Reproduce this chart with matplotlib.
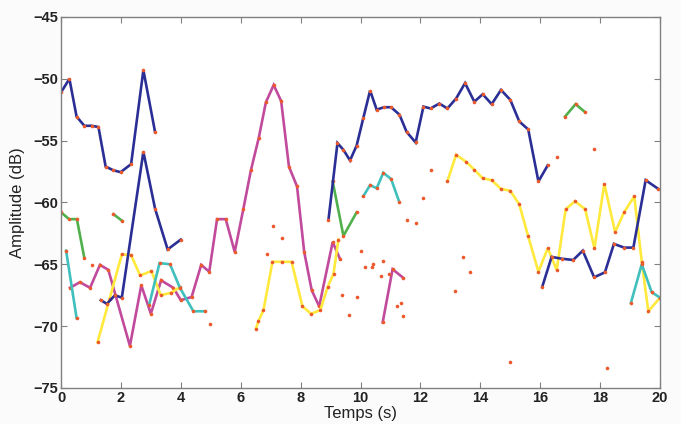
import matplotlib
matplotlib.use("Agg")
import matplotlib.pyplot as plt

# ---- data (time in s, amplitude in dB) ----
blue_a_t = [0.0, 0.28, 0.52, 0.78, 1.02, 1.25, 1.49, 1.75, 1.99, 2.34, 2.75, 3.14]
blue_a_v = [-51.1, -50.0, -53.06, -53.8, -53.8, -53.9, -57.1, -57.4, -57.55, -56.9, -49.3, -54.3]

blue_b_t = [1.33, 1.53, 1.80, 2.03, 2.75, 3.14, 3.56, 4.0]
blue_b_v = [-67.9, -68.2, -67.5, -67.7, -55.9, -60.5, -63.8, -63.0]

blue_c_t = [8.93, 9.23, 9.43, 9.65, 9.87, 10.09, 10.32, 10.54, 10.78, 11.02, 11.3, 11.54,
            11.84, 12.1, 12.34, 12.63, 12.9, 13.19, 13.49, 13.8, 14.08, 14.38, 14.69,
            15.0, 15.3, 15.6, 15.94, 16.25]
blue_c_v = [-61.4, -55.2, -55.75, -56.6, -55.4, -53.2, -50.95, -52.5, -52.3, -52.3, -52.9,
            -54.3, -55.15, -52.25, -52.4, -52.0, -52.4, -51.6, -50.35, -51.85, -51.25,
            -52.05, -50.9, -51.7, -53.45, -54.1, -58.3, -57.0]

blue_d_t = [16.07, 16.38, 16.72, 17.1, 17.42, 17.8, 18.16, 18.46, 18.8, 19.11, 19.52, 19.94]
blue_d_v = [-66.8, -64.4, -64.55, -64.65, -63.9, -66.05, -65.65, -63.35, -63.65, -63.65,
            -58.2, -58.9]

magenta_a_t = [0.3, 0.63, 0.97, 1.3, 1.58, 2.3, 2.68, 3.0, 3.34, 3.75, 4.0, 4.36, 4.68, 4.95,
               5.21, 5.5, 5.8, 6.09, 6.34, 6.6, 6.84, 7.1, 7.35, 7.61, 7.88, 8.12, 8.37,
               8.62, 9.07, 9.32]
magenta_a_v = [-66.9, -66.45, -66.9, -65.05, -65.45, -71.6, -66.7, -69.0, -66.3, -66.9,
               -67.9, -67.65, -65.05, -65.6, -61.35, -61.35, -64.0, -60.5, -57.4, -54.8,
               -51.9, -50.5, -51.8, -57.1, -58.7, -64.0, -67.1, -68.4, -63.2, -64.6]

magenta_b_t = [10.74, 11.07, 11.43]
magenta_b_v = [-69.7, -65.4, -66.1]

yellow_a_t = [1.22, 1.62, 2.03, 2.34, 2.64, 3.02, 3.33, 3.68, 3.97]
yellow_a_v = [-71.3, -67.8, -64.2, -64.25, -65.9, -65.55, -67.5, -67.3, -66.85]

yellow_b_t = [6.51, 6.59, 6.76, 7.06, 7.37, 7.7, 8.06, 8.35, 8.66, 8.9, 9.1, 9.26]
yellow_b_v = [-70.2, -69.6, -68.7, -64.8, -64.8, -64.8, -68.4, -69.0, -68.7, -66.85, -65.75,
              -63.0]

yellow_c_t = [12.9, 13.19, 13.52, 13.8, 14.08, 14.38, 14.69, 15.0, 15.3, 15.6, 15.94, 16.25,
              16.55, 16.85, 17.16, 17.5, 17.81, 18.14, 18.5, 18.8, 19.14, 19.39, 19.61, 20.0]
yellow_c_v = [-58.3, -56.15, -56.7, -57.35, -58.05, -58.2, -58.9, -59.05, -60.15, -62.75,
              -65.6, -63.7, -65.45, -60.55, -59.9, -60.55, -63.7, -58.5, -62.4, -60.8,
              -59.5, -64.8, -68.8, -67.7]

cyan_a_t = [0.17, 0.52]
cyan_a_v = [-63.9, -69.35]
cyan_b_t = [2.94, 3.29, 3.64, 3.97, 4.42, 4.81]
cyan_b_v = [-68.3, -64.9, -65.0, -66.9, -68.8, -68.8]
cyan_c_t = [10.09, 10.32, 10.54, 10.76, 11.02, 11.3]
cyan_c_v = [-59.5, -58.6, -58.85, -57.6, -58.1, -60.0]
cyan_d_t = [19.03, 19.39, 19.72, 20.0]
cyan_d_v = [-68.1, -65.0, -67.25, -67.7]

green_a_t = [0.0, 0.27, 0.53, 0.78]
green_a_v = [-60.8, -61.35, -61.35, -64.5]
green_b_t = [1.75, 2.05]
green_b_v = [-60.95, -61.5]
green_c_t = [9.07, 9.43, 9.87]
green_c_v = [-58.3, -62.7, -60.8]
green_d_t = [16.83, 17.18, 17.5]
green_d_v = [-53.05, -52.05, -52.7]

dots_t = [1.02, 4.97, 6.87, 7.09, 7.37, 9.39, 9.62, 9.88, 10.02, 10.15, 10.37, 10.41, 10.68,
          10.74, 10.96, 11.23, 11.35, 11.43, 11.54, 11.84, 12.1, 12.35, 13.16, 13.41,
          13.66, 14.98, 16.55, 17.81, 18.22]
dots_v = [-65.05, -69.85, -64.2, -61.9, -62.85, -67.5, -69.1, -67.65, -63.9, -65.25, -65.25,
          -65.0, -65.95, -64.7, -65.8, -68.4, -68.1, -69.15, -61.4, -61.7, -59.6, -57.4,
          -67.15, -64.45, -65.65, -72.9, -56.3, -55.7, -73.35]

# ---- styles ----
C_BLUE = "#2b2f95"
C_MAG = "#c24a9c"
C_YEL = "#ffe93c"
C_CYAN = "#3fc0bd"
C_GREEN = "#4fb04c"
C_DOT = "#ec5a2c"

plt.rcParams['font.family'] = ['Liberation Sans Narrow', 'Liberation Sans', 'DejaVu Sans']

fig = plt.figure(figsize=(6.81, 4.24), dpi=100, facecolor="#fbfbfb")
ax = fig.add_axes([0.0896, 0.085, 0.8796, 0.875])
ax.set_facecolor("white")

def seg(t, v, c):
    ax.plot(t, v, color=c, lw=1.9, solid_joinstyle='miter', zorder=2,
            marker='o', ms=2.6, mfc=C_DOT, mec=C_DOT, mew=0)

for t, v in [(magenta_a_t, magenta_a_v), (magenta_b_t, magenta_b_v)]:
    seg(t, v, C_MAG)
for t, v in [(yellow_a_t, yellow_a_v), (yellow_b_t, yellow_b_v), (yellow_c_t, yellow_c_v)]:
    seg(t, v, C_YEL)
for t, v in [(cyan_a_t, cyan_a_v), (cyan_b_t, cyan_b_v), (cyan_c_t, cyan_c_v), (cyan_d_t, cyan_d_v)]:
    seg(t, v, C_CYAN)
for t, v in [(green_a_t, green_a_v), (green_b_t, green_b_v), (green_c_t, green_c_v), (green_d_t, green_d_v)]:
    seg(t, v, C_GREEN)
for t, v in [(blue_a_t, blue_a_v), (blue_b_t, blue_b_v), (blue_c_t, blue_c_v), (blue_d_t, blue_d_v)]:
    seg(t, v, C_BLUE)

ax.plot(dots_t, dots_v, linestyle='none', marker='o', ms=2.6, mfc=C_DOT, mec=C_DOT, mew=0, zorder=3)

ax.set_xlim(0, 20)
ax.set_ylim(-75, -45)
ax.set_xticks(range(0, 21, 2))
ax.set_yticks(range(-75, -44, 5))
ax.tick_params(direction='in', length=4, width=0.8, top=True, right=True,
               labelsize=10.5, colors='#808080', labelcolor='#222222', pad=2)
for lab in ax.get_xticklabels() + ax.get_yticklabels():
    lab.set_fontweight('bold')
for s in ax.spines.values():
    s.set_color('#808080')
    s.set_linewidth(1.0)

ax.set_xlabel("Temps (s)", fontsize=12, color='#222222', labelpad=1)
ax.set_ylabel("Amplitude (dB)", fontsize=12, color='#222222', labelpad=6)

fig.savefig("out.png", dpi=100, facecolor=fig.get_facecolor())
